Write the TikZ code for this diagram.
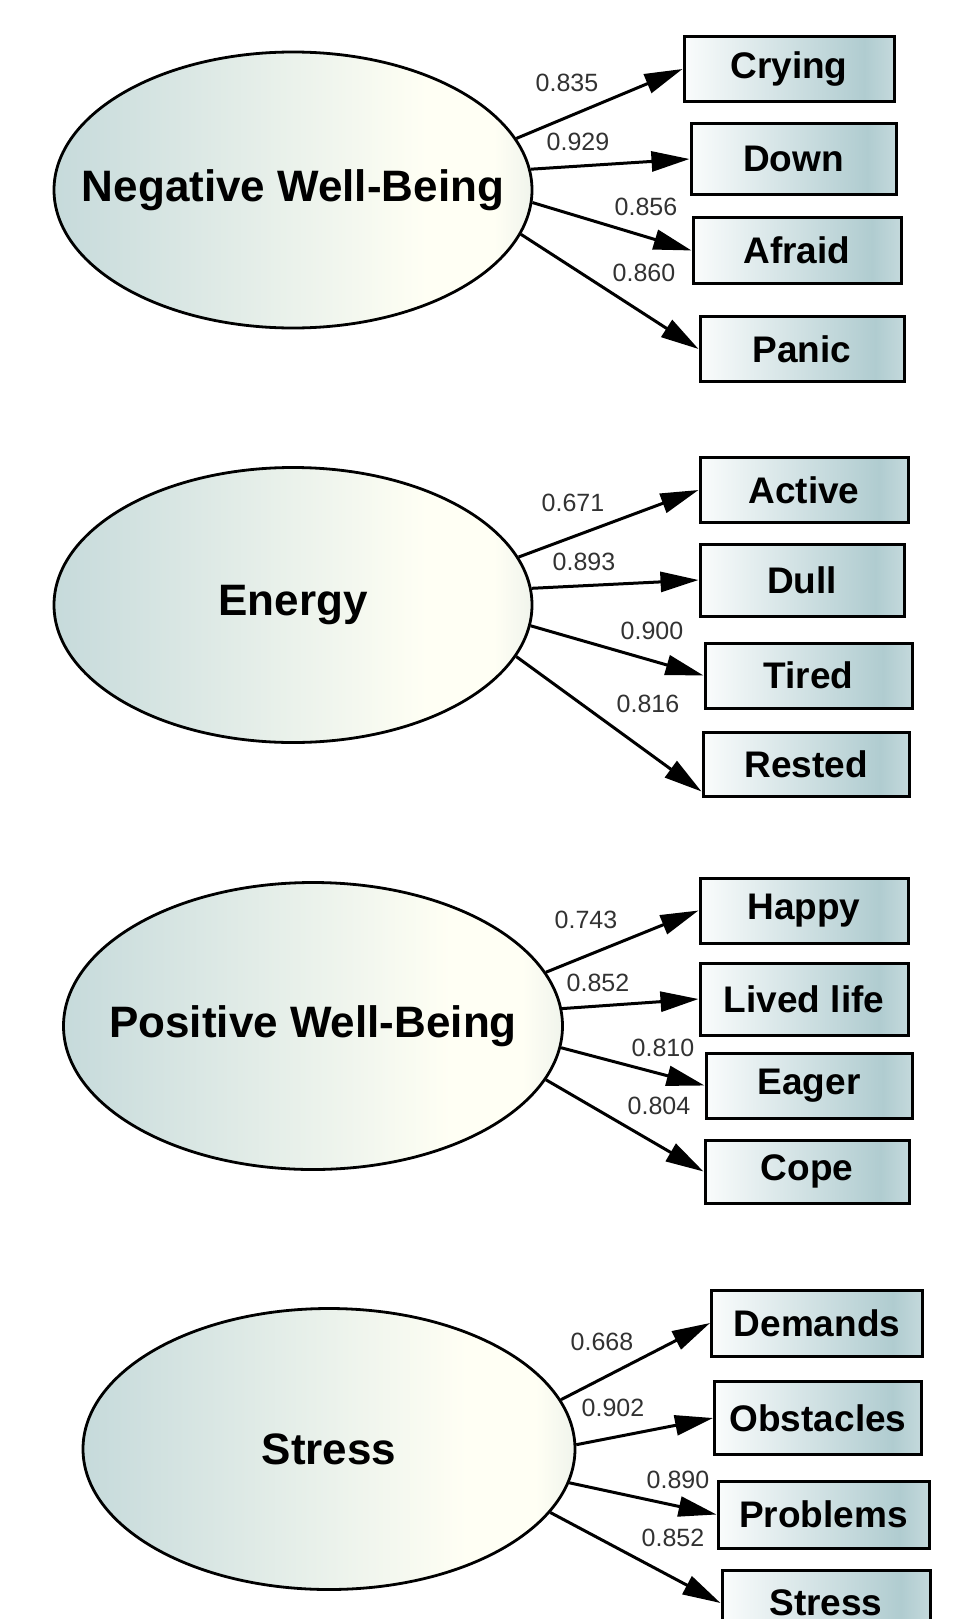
\documentclass[tikz,border=0pt]{standalone}
\usepackage{fontspec}
\setmainfont{Liberation Sans}
\usetikzlibrary{shapes.geometric,arrows.meta}

\definecolor{latentblue}{RGB}{198,218,219}
\definecolor{latentivory}{RGB}{255,255,244}
\definecolor{latentedge}{RGB}{240,244,236}
\definecolor{boxwhite}{RGB}{250,252,252}
\definecolor{boxteal}{RGB}{176,204,208}
\definecolor{boxedge}{RGB}{196,217,220}
\definecolor{loadgray}{RGB}{50,50,50}

\pgfdeclarehorizontalshading{latentshade}{100bp}{color(0bp)=(latentblue); color(25bp)=(latentblue);
  color(64bp)=(latentivory); color(71bp)=(latentivory); color(75bp)=(latentedge); color(100bp)=(latentedge)}
\pgfdeclarehorizontalshading{boxshade}{100bp}{color(0bp)=(boxwhite); color(25bp)=(boxwhite);
  color(68bp)=(boxteal); color(75bp)=(boxedge); color(100bp)=(boxedge)}

\tikzset{
  latent/.style={ellipse, draw, line width=2.8pt, shading=latentshade, inner sep=0pt,
    label={[inner sep=0pt, font=\bfseries\fontsize{44}{44}\selectfont]center:#1}},
  indicator/.style={rectangle, draw, line width=3pt, shading=boxshade, inner sep=0pt,
    minimum width=206pt, minimum height=65pt, font=\bfseries\fontsize{37}{37}\selectfont},
  loading/.style={inner sep=0pt, text=loadgray, font=\fontsize{25}{25}\selectfont},
  load/.style={line width=3pt, -{Triangle[length=38pt,width=20pt]}}
}

\begin{document}
\begin{tikzpicture}[x=1pt, y=-1pt]
    \useasboundingbox (0,0) rectangle (961,1619);
    % Negative Well-Being
    \node[latent=Negative Well-Being, minimum width=478pt, minimum height=276pt] (nwb) at (293,190) {};
    \node[indicator, minimum width=210pt, minimum height=64pt] (crying) at (789,69) {Crying};
    \node[indicator, minimum width=205pt, minimum height=71pt] (down) at (793.5,159) {Down};
    \node[indicator, minimum width=208pt, minimum height=66pt] (afraid) at (797,250.5) {Afraid};
    \node[indicator, minimum width=204pt, minimum height=65pt] (panic) at (802,349) {Panic};
    \draw[load] (nwb.13.6) -- (crying.west);
    \draw[load] (nwb.5.5) -- (down.west);
    \draw[load] (nwb.-3.5) -- (afraid.west);
    \draw[load] (nwb.-11.8) -- (panic.west);
    \node[loading] (lcrying) at (567,83) {0.835};
    \node[loading] (ldown) at (578,142) {0.929};
    \node[loading] (lafraid) at (646,207) {0.856};
    \node[loading] (lpanic) at (644,273) {0.860};
    % Energy
    \node[latent=Energy, minimum width=478pt, minimum height=275pt] (energy) at (293,605) {};
    \node[indicator, minimum width=208pt, minimum height=65pt] (active) at (804,490) {Active};
    \node[indicator, minimum width=204pt, minimum height=72pt] (dull) at (802,580) {Dull};
    \node[indicator, minimum width=207pt, minimum height=65pt] (tired) at (808.5,675.5) {Tired};
    \node[indicator, minimum width=206pt, minimum height=64pt] (rested) at (806,764) {Rested};
    \coordinate (restedtip) at ([yshift=6pt]rested.south west);
    \draw[load] (energy.12.9) -- (active.west);
    \draw[load] (energy.4.8) -- (dull.west);
    \draw[load] (energy.-5.2) -- (tired.west);
    \draw[load] (energy.-13.1) -- (restedtip);
    \node[loading] (lactive) at (573,503) {0.671};
    \node[loading] (ldull) at (584,562) {0.893};
    \node[loading] (ltired) at (652,631) {0.900};
    \node[loading] (lrested) at (648,704) {0.816};
    % Positive Well-Being
    \node[latent=Positive Well-Being, minimum width=499pt, minimum height=287pt] (pwb) at (313,1026) {};
    \node[indicator, minimum width=208pt, minimum height=65pt] (happy) at (804,910.5) {Happy};
    \node[indicator, minimum width=208pt, minimum height=72pt] (lived) at (804,999) {Lived life};
    \node[indicator, minimum width=206pt, minimum height=65pt] (eager) at (809,1085.5) {Eager};
    \node[indicator, minimum width=204pt, minimum height=63pt] (cope) at (807,1171.5) {Cope};
    \draw[load] (pwb.13.8) -- (happy.west);
    \draw[load] (pwb.4.4) -- (lived.west);
    \draw[load] (pwb.-5.5) -- (eager.west);
    \draw[load] (pwb.-13.5) -- (cope.west);
    \node[loading] (lhappy) at (586,920) {0.743};
    \node[loading] (llived) at (598,983) {0.852};
    \node[loading] (leager) at (663,1048) {0.810};
    \node[loading] (lcope) at (659,1106) {0.804};
    % Stress
    \node[latent=Stress, minimum width=492pt, minimum height=281pt] (stress) at (329,1449) {};
    \node[indicator, minimum width=211pt, minimum height=66pt] (demands) at (817,1323) {Demands};
    \node[indicator, minimum width=207pt, minimum height=73pt] (obstacles) at (818,1418) {Obstacles};
    \node[indicator, minimum width=211pt, minimum height=67pt] (problems) at (823.5,1514.5) {Problems};
    \node[indicator, minimum width=208pt, minimum height=66pt] (stressitem) at (826,1603) {Stress};
    \draw[load] (stress.12.2) -- (demands.west);
    \draw[load] (stress.1.8) -- (obstacles.west);
    \draw[load] (stress.-8.9) -- (problems.west);
    \draw[load] (stress.-16) -- (stressitem.west);
    \node[loading] (ldemands) at (602,1342) {0.668};
    \node[loading] (lobstacles) at (613,1408) {0.902};
    \node[loading] (lproblems) at (678,1480) {0.890};
    \node[loading] (lstressitem) at (673,1538) {0.852};
\end{tikzpicture}
\end{document}
